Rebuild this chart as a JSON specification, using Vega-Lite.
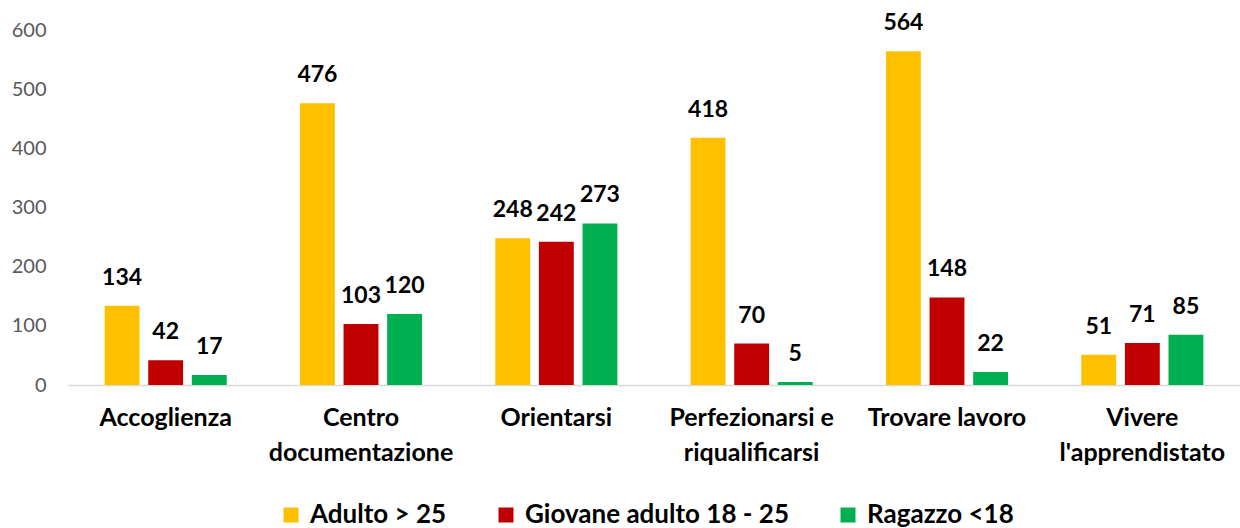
{
  "$schema": "https://vega.github.io/schema/vega-lite/v6.json",
  "width": 1172,
  "height": 355,
  "autosize": {"type": "none"},
  "padding": {"left": 68, "top": 30, "right": 0, "bottom": 143},
  "background": "white",
  "config": {"view": {"stroke": null}, "font": "Lato"},
  "data": {
    "values": [
      {"cat": "Accoglienza", "grp": "Adulto > 25", "v": 134},
      {"cat": "Accoglienza", "grp": "Giovane adulto 18 - 25", "v": 42},
      {"cat": "Accoglienza", "grp": "Ragazzo <18", "v": 17},
      {"cat": "Centro documentazione", "grp": "Adulto > 25", "v": 476},
      {"cat": "Centro documentazione", "grp": "Giovane adulto 18 - 25", "v": 103},
      {"cat": "Centro documentazione", "grp": "Ragazzo <18", "v": 120},
      {"cat": "Orientarsi", "grp": "Adulto > 25", "v": 248},
      {"cat": "Orientarsi", "grp": "Giovane adulto 18 - 25", "v": 242},
      {"cat": "Orientarsi", "grp": "Ragazzo <18", "v": 273},
      {"cat": "Perfezionarsi e riqualificarsi", "grp": "Adulto > 25", "v": 418},
      {"cat": "Perfezionarsi e riqualificarsi", "grp": "Giovane adulto 18 - 25", "v": 70},
      {"cat": "Perfezionarsi e riqualificarsi", "grp": "Ragazzo <18", "v": 5},
      {"cat": "Trovare lavoro", "grp": "Adulto > 25", "v": 564},
      {"cat": "Trovare lavoro", "grp": "Giovane adulto 18 - 25", "v": 148},
      {"cat": "Trovare lavoro", "grp": "Ragazzo <18", "v": 22},
      {"cat": "Vivere l'apprendistato", "grp": "Adulto > 25", "v": 51},
      {"cat": "Vivere l'apprendistato", "grp": "Giovane adulto 18 - 25", "v": 71},
      {"cat": "Vivere l'apprendistato", "grp": "Ragazzo <18", "v": 85}
    ]
  },
  "encoding": {
    "x": {
      "field": "cat",
      "type": "nominal",
      "sort": null,
      "title": null,
      "scale": {"paddingInner": 0.375, "paddingOuter": 0.1875},
      "axis": {
        "labelAngle": 0,
        "labelFont": "Lato",
        "labelFontWeight": "bold",
        "labelFontSize": 25,
        "labelColor": "#000000",
        "labelPadding": 20,
        "labelLineHeight": 35,
        "labelBaseline": "top",
        "labelLimit": 0,
        "labelOverlap": false,
        "ticks": false,
        "domainColor": "#D9D9D9",
        "domainWidth": 1.5,
        "labelExpr": "datum.value == 'Centro documentazione' ? ['Centro', 'documentazione'] : datum.value == 'Perfezionarsi e riqualificarsi' ? ['Perfezionarsi e', 'riqualificarsi'] : datum.value == \"Vivere l'apprendistato\" ? ['Vivere', \"l'apprendistato\"] : datum.value"
      }
    },
    "xOffset": {
      "field": "grp",
      "type": "nominal",
      "sort": null,
      "scale": {"paddingInner": 0.2, "paddingOuter": 0}
    },
    "y": {
      "field": "v",
      "type": "quantitative",
      "title": null,
      "scale": {"domain": [0, 600], "nice": false},
      "axis": {
        "values": [0, 100, 200, 300, 400, 500, 600],
        "grid": false,
        "domain": false,
        "ticks": false,
        "labelFont": "Lato",
        "labelFontSize": 20,
        "labelColor": "#595959",
        "labelPadding": 22
      }
    }
  },
  "layer": [
    {
      "mark": {"type": "bar"},
      "encoding": {
        "color": {
          "field": "grp",
          "type": "nominal",
          "sort": null,
          "scale": {
            "domain": ["Adulto > 25", "Giovane adulto 18 - 25", "Ragazzo <18"],
            "range": ["#FFC000", "#C00000", "#00B050"]
          },
          "legend": {
            "title": null,
            "orient": "none",
            "direction": "horizontal",
            "legendX": 210,
            "legendY": 472,
            "symbolType": "square",
            "symbolSize": 225,
            "symbolStrokeWidth": 0,
            "labelFont": "Lato",
            "labelFontWeight": "bold",
            "labelFontSize": 26,
            "labelColor": "#000000",
            "labelLimit": 0,
            "labelOffset": 6,
            "columnPadding": 46
          }
        }
      }
    },
    {
      "mark": {"type": "text", "baseline": "bottom", "dy": -16, "font": "Lato", "fontWeight": "bold", "fontSize": 23, "color": "#000000"},
      "encoding": {"text": {"field": "v", "type": "quantitative"}}
    }
  ]
}
